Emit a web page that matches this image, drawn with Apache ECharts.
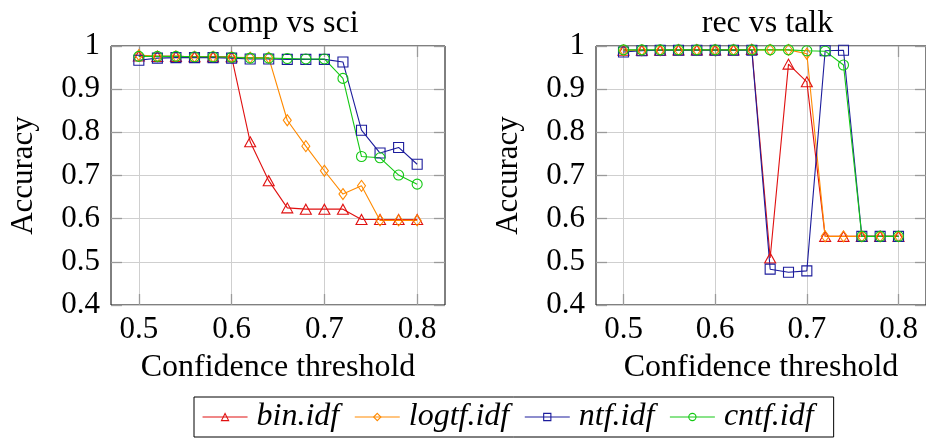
<!DOCTYPE html>
<html>
<head>
<meta charset="utf-8">
<script src="https://cdn.jsdelivr.net/npm/echarts@6/dist/echarts.min.js"></script>
<style>
html,body{margin:0;padding:0;background:#fff;}
#c{width:926px;height:439px;}
</style>
</head>
<body>
<div id="c"></div>
<script>
// ---- data ----
const thresholds = [0.50,0.52,0.54,0.56,0.58,0.60,0.62,0.64,0.66,0.68,0.70,0.72,0.74,0.76,0.78,0.80];
const xTicks = [0.5,0.6,0.7,0.8];
const seriesNames = ['bin.idf','logtf.idf','ntf.idf','cntf.idf'];
const panelTitles = ['comp vs sci','rec vs talk'];

// comp vs sci
const binCompSci   = [0.977,0.976,0.976,0.975,0.975,0.975,0.778,0.688,0.625,0.622,0.622,0.622,0.598,0.598,0.598,0.598];
const logtfCompSci = [0.979,0.976,0.976,0.975,0.975,0.974,0.973,0.973,0.828,0.768,0.711,0.657,0.676,0.596,0.596,0.596];
const ntfCompSci   = [0.967,0.972,0.973,0.973,0.973,0.972,0.970,0.970,0.969,0.969,0.969,0.963,0.805,0.752,0.765,0.726];
const cntfCompSci  = [0.976,0.976,0.976,0.975,0.975,0.974,0.972,0.972,0.971,0.970,0.970,0.925,0.744,0.741,0.701,0.680];

// rec vs talk
const binRecTalk   = [0.990,0.990,0.990,0.991,0.991,0.991,0.991,0.992,0.509,0.958,0.917,0.559,0.559,0.559,0.559,0.559];
const logtfRecTalk = [0.990,0.990,0.990,0.991,0.991,0.991,0.991,0.991,0.991,0.991,0.982,0.559,0.559,0.559,0.559,0.559];
const ntfRecTalk   = [0.986,0.989,0.990,0.990,0.990,0.990,0.990,0.990,0.483,0.476,0.479,0.989,0.990,0.559,0.559,0.559];
const cntfRecTalk  = [0.991,0.991,0.991,0.991,0.991,0.991,0.991,0.991,0.991,0.991,0.989,0.988,0.956,0.559,0.559,0.559];

// ---- styling ----
const FONT = 'Liberation Serif';
const colors = ['#e01010','#ff8a00','#1c1c9c','#14c814'];
const symbols = ['triangle','diamond','rect','circle'];
const symbolSizes = [[11,10],[8,11],[10,10],[10,10]];
const CLEAR = 'rgba(255,255,255,0)';

const panelData = [
  [binCompSci, logtfCompSci, ntfCompSci, cntfCompSci],
  [binRecTalk, logtfRecTalk, ntfRecTalk, cntfRecTalk]
];

const gridPos = [
  {left:111, top:46, width:334, height:259},
  {left:596, top:46, width:333, height:259}
];

const grids = gridPos.map(g => Object.assign({show:true, borderColor:'#000', borderWidth:1, backgroundColor:'transparent'}, g));

const tickStyle = {show:true, inside:true, length:11, lineStyle:{color:'#9a9a9a', width:1.3}};
const xAxes = [], yAxes = [];
gridPos.forEach((g, gi) => {
  xAxes.push({
    type:'value', gridIndex:gi, position:'bottom', min:0.47, max:0.83,
    axisLine:{show:false},
    axisTick:Object.assign({customValues:xTicks}, tickStyle),
    axisLabel:{customValues:xTicks, fontFamily:FONT, fontSize:31, color:'#000', margin:9},
    splitLine:{show:true, lineStyle:{color:'#cfcfcf', width:1}},
    name:'Confidence threshold', nameLocation:'middle', nameGap:47,
    nameTextStyle:{fontFamily:FONT, fontSize:32, color:'#000'}
  });
  xAxes.push({
    type:'value', gridIndex:gi, position:'top', min:0.47, max:0.83,
    axisLine:{show:false},
    axisTick:Object.assign({customValues:xTicks}, tickStyle),
    axisLabel:{show:false, customValues:xTicks},
    splitLine:{show:false}
  });
  yAxes.push({
    type:'value', gridIndex:gi, position:'left', min:0.4, max:1, interval:0.1,
    axisLine:{show:false},
    axisTick:tickStyle,
    axisLabel:{fontFamily:FONT, fontSize:31, color:'#000', margin:11},
    splitLine:{show:true, lineStyle:{color:'#cfcfcf', width:1}},
    name:'Accuracy', nameLocation:'middle', nameGap:72,
    nameTextStyle:{fontFamily:FONT, fontSize:31, color:'#000'}
  });
  yAxes.push({
    type:'value', gridIndex:gi, position:'right', min:0.4, max:1, interval:0.1,
    axisLine:{show:false},
    axisTick:tickStyle,
    axisLabel:{show:false},
    splitLine:{show:false}
  });
});

const series = [];
panelData.forEach((panel, pi) => {
  panel.forEach((vals, si) => {
    series.push({
      type:'line', name:seriesNames[si],
      xAxisIndex:pi*2, yAxisIndex:pi*2,
      data:thresholds.map((x, i) => [x, vals[i]]),
      symbol:symbols[si], symbolSize:symbolSizes[si],
      showAllSymbol:true,
      lineStyle:{color:colors[si], width:1.1},
      itemStyle:{color:CLEAR, borderColor:colors[si], borderWidth:1.1},
      emphasis:{disabled:true},
      clip:false
    });
  });
});

const chart = echarts.init(document.getElementById('c'), null, {renderer:'canvas'});
chart.setOption({
  animation:false,
  backgroundColor:'#fff',
  title: panelTitles.map((t, i) => ({
    text:t, left: gridPos[i].left + gridPos[i].width/2, top:3, textAlign:'center',
    textStyle:{fontFamily:FONT, fontSize:32, fontWeight:'normal', color:'#000'}
  })),
  legend:{
    data:seriesNames.map((n, i) => ({
      name:n,
      itemStyle:{color:CLEAR, borderColor:colors[i], borderWidth:1.1},
      lineStyle:{color:colors[i], width:1.1}
    })),
    left:194, top:397,
    padding:[4,20,4,8],
    itemWidth:45, itemHeight:9, itemGap:15,
    borderColor:'#000', borderWidth:1,
    textStyle:{fontFamily:FONT, fontSize:32, fontStyle:'italic', color:'#000', padding:[0,0,0,4]}
  },
  grid:grids,
  xAxis:xAxes,
  yAxis:yAxes,
  series:series
});
</script>
</body>
</html>
